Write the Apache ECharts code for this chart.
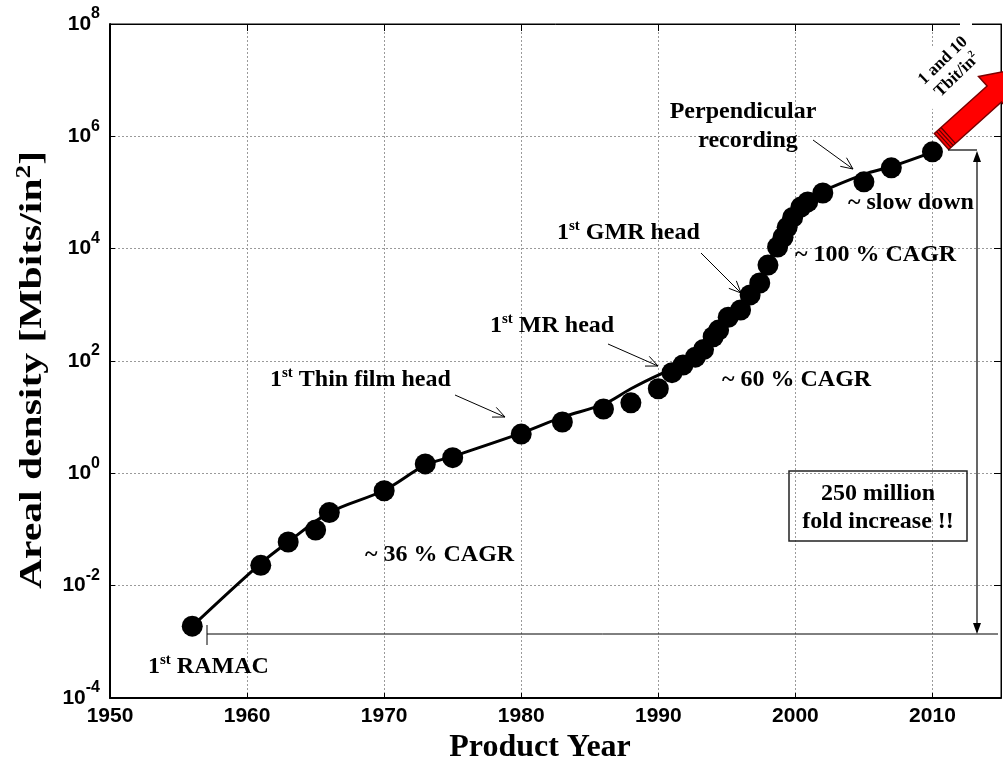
<!DOCTYPE html>
<html><head><meta charset="utf-8">
<script src="https://cdn.jsdelivr.net/npm/echarts@6/dist/echarts.min.js"></script>
<style>html,body{margin:0;padding:0;background:#fff}#c{width:1003px;height:765px}</style>
</head><body><div id="c"></div>
<script>
// ---- data ----
const pointYears  = [1956, 1961, 1963, 1965, 1966, 1970, 1973, 1975, 1980, 1983, 1986, 1988, 1990, 1991, 1991.8, 1992.7, 1993.3, 1994, 1994.4, 1995.1, 1996, 1996.7, 1997.4, 1998, 1998.7, 1999.1, 1999.4, 1999.8, 2000.4, 2000.9, 2002, 2005, 2007, 2010];
const pointValues = [0.0019, 0.023, 0.06, 0.098, 0.2, 0.49, 1.47, 1.9, 5.0, 8.2, 14, 18, 32, 62, 85, 117, 160, 270, 355, 600, 810, 1500, 2450, 5100, 10700, 16000, 24000, 36000, 55000, 68000, 98000, 155000, 275000, 530000];
const trendYears  = [1956, 1961, 1963, 1966, 1970, 1973, 1975, 1980, 1983, 1986, 1988, 1990, 1991, 1992, 1993, 1994, 1995, 1996, 1997, 1998, 1999, 2000, 2001, 2002, 2005, 2007, 2010];
const trendValues = [0.0019, 0.025, 0.06, 0.2, 0.5, 1.4, 2.0, 5.2, 10, 17, 32, 56, 69, 89, 126, 240, 525, 900, 1900, 5100, 18000, 52000, 83000, 107000, 210000, 290000, 525000];
const xTickLabels = ['1950', '1960', '1970', '1980', '1990', '2000', '2010'];
const yTickExponents = [-4, -2, 0, 2, 4, 6, 8];

const SERIF = '"Liberation Serif", "Times New Roman", serif';
const SANS = '"Liberation Sans", Arial, sans-serif';
const ANN = 24;

const chart = echarts.init(document.getElementById('c'), null, {renderer: 'canvas'});

function txt(x, y, text, align, size) {
  size = size || ANN;
  return {
    type: 'text', x: x, y: y, z: 100,
    style: {
      text: text,
      font: 'bold ' + size + 'px ' + SERIF,
      fill: '#000',
      align: align || 'left', textAlign: align || 'left',
      verticalAlign: 'middle', textVerticalAlign: 'middle',
      lineHeight: 28,
      rich: {
        s: {fontSize: 15, fontWeight: 'bold', fontFamily: SERIF, verticalAlign: 'top', lineHeight: 17, fill: '#000'}
      }
    }
  };
}
function arrow(x1, y1, x2, y2) {
  const a = Math.atan2(y2 - y1, x2 - x1), h = 13, sp = 0.42;
  return [
    {type: 'polyline', z: 100, shape: {points: [[x1, y1], [x2, y2]]}, style: {stroke: '#000', lineWidth: 1, fill: null}},
    {type: 'polyline', z: 100, shape: {points: [
      [x2 - h * Math.cos(a - sp), y2 - h * Math.sin(a - sp)], [x2, y2],
      [x2 - h * Math.cos(a + sp), y2 - h * Math.sin(a + sp)]]}, style: {stroke: '#000', lineWidth: 1, fill: null}}
  ];
}
function line(pts, w, color) {
  return {type: 'polyline', z: 100, shape: {points: pts}, style: {stroke: color || '#000', lineWidth: w || 1, fill: null}};
}

// red arrow geometry (annotation)
const ang = 42 * Math.PI / 180;
const d = [Math.cos(ang), -Math.sin(ang)], n = [Math.sin(ang), Math.cos(ang)];
const c0 = [941.5, 141.5], hw = 10.7, L = 71, HW = 23.5, T = 110;
function P(t, s) { return [c0[0] + d[0] * t + n[0] * s, c0[1] + d[1] * t + n[1] * s]; }
const redArrow = {type: 'polygon', z: 90, shape: {points: [P(0, -hw), P(L, -hw), P(L, -HW), P(T, 0), P(L, HW), P(L, hw), P(0, hw)]},
  style: {fill: '#ff0000', stroke: '#7a0000', lineWidth: 1.5}};
const stripes = [3, 6, 9].map(t => ({type: 'polyline', z: 91, shape: {points: [P(t, -hw), P(t, hw)]}, style: {stroke: '#5a0000', lineWidth: 1.2}}));

const graphics = [
  {type: 'rect', z: 80, shape: {x: 960, y: 18, width: 12, height: 12}, style: {fill: '#fff'}},
  {type: 'polygon', z: 80, shape: {points: [[925, 118], [902, 82], [944, 34], [972, 62]]}, style: {fill: '#fff'}},
  redArrow, ...stripes,
  {type: 'text', x: 950, y: 68, rotation: 44 * Math.PI / 180, z: 100,
    style: {text: '1 and 10\nTbit/in{s|2}', font: 'bold 17px ' + SERIF, fill: '#000', align: 'center', textAlign: 'center',
      verticalAlign: 'middle', textVerticalAlign: 'middle', lineHeight: 20,
      rich: {s: {fontSize: 10, fontWeight: 'bold', fontFamily: SERIF, verticalAlign: 'top', lineHeight: 11, fill: '#000'}}}},
  // y-axis title (stretched serif text like the reference)
  {type: 'text', x: 33, y: 370, rotation: Math.PI / 2, scaleX: 1.3, z: 100,
    style: {text: 'Areal density [Mbits/in{s|2}]', font: 'bold 32px ' + SERIF, fill: '#000', align: 'center', textAlign: 'center',
      verticalAlign: 'middle', textVerticalAlign: 'middle', lineHeight: 38,
      rich: {s: {fontSize: 21, fontWeight: 'bold', fontFamily: SERIF, verticalAlign: 'top', lineHeight: 22, fill: '#000'}}}},
  txt(270, 380, '1{s|st} Thin film head'),
  ...arrow(455, 395, 505, 417),
  txt(490, 326, '1{s|st} MR head'),
  ...arrow(608, 344, 658, 366),
  txt(557, 233, '1{s|st} GMR head'),
  ...arrow(701, 253, 741, 293),
  txt(743, 112, 'Perpendicular', 'center'),
  txt(748, 141, 'recording', 'center'),
  ...arrow(813, 140, 853, 169),
  txt(848, 203, '~ slow down'),
  txt(795, 255, '~ 100 % CAGR'),
  txt(722, 380, '~ 60 % CAGR'),
  txt(365, 555, '~ 36 % CAGR'),
  txt(148, 667, '1{s|st} RAMAC'),
  // reference lines & big arrow
  line([[207, 634], [998, 634]], 1),
  line([[207, 625], [207, 645]], 1),
  line([[948, 150], [977, 150]], 1.2),
  line([[977, 160], [977, 624]], 1.2),
  {type: 'polygon', z: 100, shape: {points: [[977, 151], [973, 162], [981, 162]]}, style: {fill: '#000'}},
  {type: 'polygon', z: 100, shape: {points: [[977, 634], [973, 623], [981, 623]]}, style: {fill: '#000'}},
  {type: 'rect', z: 95, shape: {x: 789, y: 471, width: 178, height: 70}, style: {fill: null, stroke: '#222', lineWidth: 1.5}},
  txt(878, 494, '250 million', 'center'),
  txt(878, 522, 'fold increase !!', 'center')
];

const gridLine = {show: true, lineStyle: {color: '#9a9a9a', type: [2, 2], width: 1}};

chart.setOption({
  animation: false,
  backgroundColor: '#fff',
  grid: {left: 110, top: 24, right: 2, bottom: 67, show: true, borderColor: '#000', borderWidth: 1,
    containLabel: false, outerBoundsMode: 'none'},
  xAxis: [{
    type: 'value', min: 1950, max: 2015, interval: 10,
    axisLine: {show: true, onZero: false, lineStyle: {color: '#000', width: 2}},
    axisTick: {show: true, inside: true, length: 5, lineStyle: {color: '#000'}},
    axisLabel: {fontSize: 21, fontWeight: 'bold', fontFamily: SANS, color: '#000', margin: 8, showMaxLabel: false,
      formatter: v => (xTickLabels.indexOf(String(v)) >= 0 ? String(v) : '')},
    splitLine: gridLine,
    name: 'Product Year', nameLocation: 'middle', nameGap: 30,
    nameTextStyle: {fontSize: 32, fontWeight: 'bold', fontFamily: SERIF, color: '#000', padding: [0, 31, 0, 0]}
  }, {
    type: 'value', position: 'top', min: 1950, max: 2015, interval: 10,
    axisLine: {show: true, lineStyle: {color: '#000', width: 1}},
    axisTick: {show: true, inside: true, length: 7, lineStyle: {color: '#000'}},
    axisLabel: {show: false}, splitLine: {show: false}
  }],
  yAxis: [{
    type: 'log', logBase: 10, min: 1e-4, max: 1e8, interval: 2,
    axisLine: {show: true, onZero: false, lineStyle: {color: '#000', width: 2}},
    axisTick: {show: true, inside: true, length: 5, lineStyle: {color: '#000'}},
    axisLabel: {
      margin: 10, color: '#000',
      formatter: v => {
        const e = Math.round(Math.log10(v));
        return yTickExponents.indexOf(e) >= 0 ? '{b|10}{s|' + e + '}' : '';
      },
      rich: {
        b: {fontSize: 21, fontWeight: 'bold', fontFamily: SANS, color: '#000', lineHeight: 36, verticalAlign: 'middle'},
        s: {fontSize: 16, fontWeight: 'bold', fontFamily: SANS, color: '#000', lineHeight: 17, verticalAlign: 'top'}
      }
    },
    splitLine: gridLine
  }, {
    type: 'log', logBase: 10, position: 'right', min: 1e-4, max: 1e8, interval: 2,
    axisLine: {show: true, lineStyle: {color: '#000', width: 1}},
    axisTick: {show: true, inside: true, length: 7, lineStyle: {color: '#000'}},
    axisLabel: {show: false}, splitLine: {show: false}
  }],
  series: [{
    type: 'line', name: 'trend', data: trendYears.map((y, i) => [y, trendValues[i]]),
    smooth: 0.35, showSymbol: false, symbol: 'none', lineStyle: {color: '#000', width: 3}, z: 3, silent: true
  }, {
    type: 'scatter', name: 'products', data: pointYears.map((y, i) => [y, pointValues[i]]),
    symbol: 'circle', symbolSize: 21, itemStyle: {color: '#000', opacity: 1}, z: 4, silent: true
  }],
  graphic: graphics
});
</script></body></html>
